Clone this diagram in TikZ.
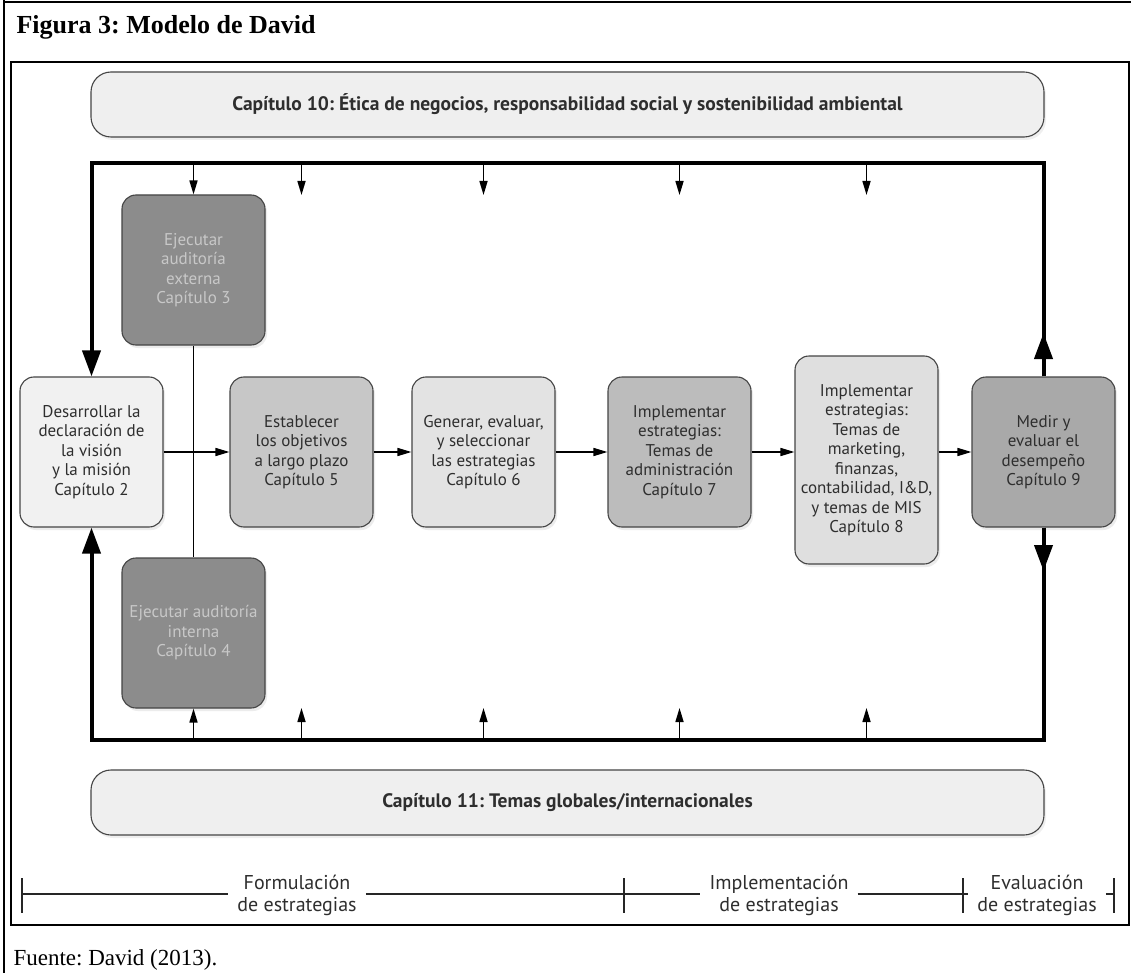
\documentclass[tikz,border=0pt]{standalone}
\usepackage{fontspec}
\setmainfont{Liberation Serif}
\newfontfamily\ptsans{PT Sans}
\usetikzlibrary{arrows.meta,shadows}
\newcommand\bxfont{\ptsans\fontsize{17}{19.5}\selectfont}
\newcommand\bnfont{\ptsans\bfseries\fontsize{19.5}{22}\selectfont}
\newcommand\lbfont{\ptsans\fontsize{20}{22}\selectfont}
\definecolor{bordc}{HTML}{454545}
\definecolor{txtdark}{HTML}{2E2E2E}
\definecolor{txtlight}{HTML}{C8C8C8}
\definecolor{fA}{HTML}{F1F1F1}
\definecolor{fB}{HTML}{C7C7C7}
\definecolor{fC}{HTML}{E3E3E3}
\definecolor{fD}{HTML}{BCBCBC}
\definecolor{fE}{HTML}{DFDFDF}
\definecolor{fF}{HTML}{A9A9A9}
\definecolor{fG}{HTML}{8C8C8C}
\definecolor{fban}{HTML}{EFEFEF}
\frenchspacing
\begin{document}
\begin{tikzpicture}[x=1pt,y=-1pt,
  box/.style={draw=bordc, line width=1.1pt, rounded corners=14pt,
    minimum width=143pt, minimum height=150pt, align=center,
    font=\bxfont, inner sep=2pt, text=txtdark,
    drop shadow={shadow xshift=2pt,shadow yshift=-3pt,opacity=0.15}},
  banner/.style={draw=bordc, line width=1.1pt, rounded corners=20pt,
    fill=fban, minimum width=953pt, minimum height=65pt,
    font=\bnfont, text=txtdark,
    drop shadow={shadow xshift=2pt,shadow yshift=-3pt,opacity=0.12}},
  loopline/.style={line width=4pt, black},
  bigtip/.style={-{Triangle[length=26pt,width=18pt]}},
  thin/.style={line width=1.6pt, black},
  smalltip/.style={-{Triangle[length=14pt,width=8pt]}},
  lbl/.style={font=\lbfont, align=center, text=txtdark, inner xsep=9pt, inner ysep=0pt},
  scl/.style={line width=1.3pt, black!85},
  frame/.style={line width=2pt, black}
]
\useasboundingbox (0,0) rectangle (1131,973);
\fill[white] (0,0) rectangle (1131,973);

% table frame and figure frame
\draw[frame] (4,0) -- (4,973);
\draw[frame] (4,2) -- (1131,2);
\draw[frame] (11,62) rectangle (1129,925);

\node[anchor=base west, font=\bfseries\fontsize{26}{30}\selectfont] (title) at (13,34) {Figura 3: Modelo de David};
\node[anchor=base west, font=\fontsize{23}{26}\selectfont] (src) at (10,965) {Fuente: David (2013).};

% banners
\node[banner] (ban1) at (567.5,104.5) {Capítulo 10: Ética de negocios, responsabilidad social y sostenibilidad ambiental};
\node[banner] (ban2) at (567.5,802.5) {Capítulo 11: Temas globales/internacionales};

% boxes
\node[box, fill=fA] (b1) at (91.5,452) {Desarrollar la\\declaración de\\la visión\\y la misión\\Capítulo 2};
\node[box, fill=fG, text=txtlight] (b3) at (193.5,270) {Ejecutar\\auditoría\\externa\\Capítulo 3};
\node[box, fill=fG, text=txtlight] (b4) at (193.5,633) {Ejecutar auditoría\\interna\\Capítulo 4};
\node[box, fill=fB] (b5) at (301.5,452) {Establecer\\los objetivos\\a largo plazo\\Capítulo 5};
\node[box, fill=fC] (b6) at (483.5,452) {Generar, evaluar,\\y seleccionar\\las estrategias\\Capítulo 6};
\node[box, fill=fD] (b7) at (679.5,452) {Implementar\\estrategias:\\Temas de\\administración\\Capítulo 7};
\node[box, fill=fE, minimum height=208pt] (b8) at (866.5,460) {Implementar\\estrategias:\\Temas de\\marketing,\\finanzas,\\contabilidad, I\&D,\\y temas de MIS\\Capítulo 8};
\node[box, fill=fF] (b9) at (1043.5,452) {Medir y\\evaluar el\\desempeño\\Capítulo 9};

% loop coordinates
\coordinate (c1) at (91.5,163);
\coordinate (c2) at (1043.5,163);
\coordinate (c3) at (1043.5,740);
\coordinate (c4) at (91.5,740);
\coordinate (ru) at (1043.5,333);
\coordinate (rd) at (1043.5,571);

% big loop
\draw[loopline, bigtip] (b9.north) -- (c2) -- (c1) -- (b1.north);
\draw[loopline, bigtip] (b9.south) -- (c3) -- (c4) -- (b1.south);
\draw[loopline, bigtip] (b9.north) -- (ru);
\draw[loopline, bigtip] (b9.south) -- (rd);

% small arrows from the top and bottom
\coordinate (tt) at (0,163);
\coordinate (ta) at (0,195);
\coordinate (bb) at (0,740);
\coordinate (ba) at (0,708);
\draw[thin, smalltip] (b3.north |- tt) -- (b3.north);
\foreach \n in {b5,b6,b7,b8}{
  \draw[thin, smalltip] (\n.center |- tt) -- (\n.center |- ta);
}
\draw[thin, smalltip] (b4.south |- bb) -- (b4.south);
\foreach \n in {b5,b6,b7,b8}{
  \draw[thin, smalltip] (\n.center |- bb) -- (\n.center |- ba);
}

% audit connector
\draw[thin] (b3.south) -- (b4.north);

% main flow
\draw[thin, smalltip] (b1.east) -- (b5.west);
\draw[thin, smalltip] (b5.east) -- (b6.west);
\draw[thin, smalltip] (b6.east) -- (b7.west);
\draw[thin, smalltip] (b7.east) -- (b7.east -| b8.west);
\draw[thin, smalltip] (b7.east -| b8.east) -- (b9.west);

% stage scale
\coordinate (s0) at (22,894);
\coordinate (s1) at (624,894);
\coordinate (s2) at (963,894);
\coordinate (s3) at (1114,894);
\node[lbl] (l1) at (297,895) {Formulación\\de estrategias};
\node[lbl] (l2) at (779,895) {Implementación\\de estrategias};
\node[lbl] (l3) at (1037,895) {Evaluación\\de estrategias};
\foreach \s in {s0,s1,s2,s3}{
  \draw[scl] ([yshift=16pt]\s) -- ([yshift=-19pt]\s);
}
\draw[scl] (s0) -- (s0 -| l1.west);
\draw[scl] (l1.east |- s0) -- (s1);
\draw[scl] (s1) -- (s1 -| l2.west);
\draw[scl] (l2.east |- s1) -- (s2);
\draw[scl] (s2) -- (s2 -| l3.west);
\draw[scl] (l3.east |- s2) -- (s3);
\end{tikzpicture}
\end{document}
